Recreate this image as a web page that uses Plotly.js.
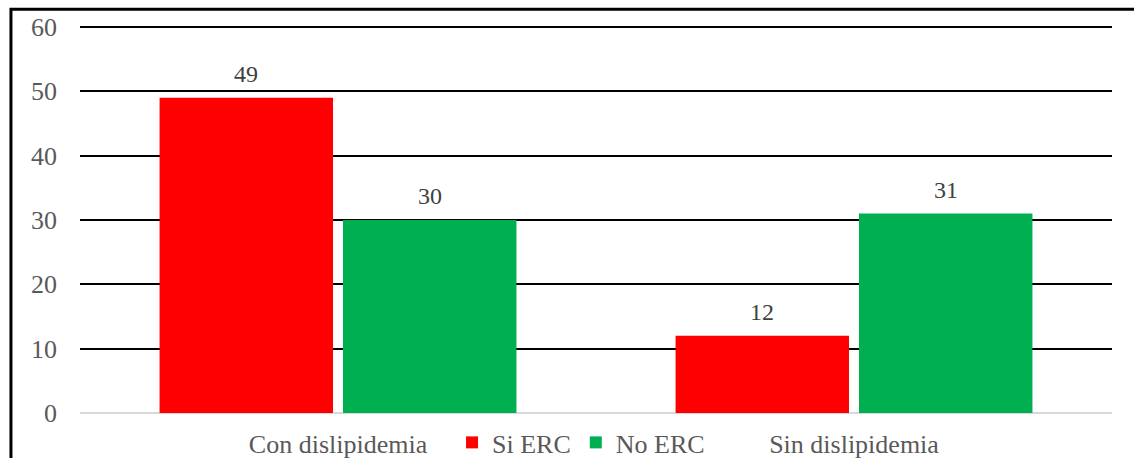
<!DOCTYPE html>
<html>
<head>
<meta charset="utf-8">
<script src="https://cdn.plot.ly/plotly-3.0.1.min.js"></script>
<style>
  html, body { margin: 0; padding: 0; background: #fff; }
  #chart { width: 1134px; height: 458px; }
</style>
</head>
<body>
<div id="chart"></div>
<script>
// Patients grouped by dyslipidemia status, split by CKD (ERC)
const categories = ["Con dislipidemia", "Sin dislipidemia"];
const siErc = [49, 12];
const noErc = [30, 31];
const seriesNames = ["Si ERC", "No ERC"];
const seriesColors = ["#ff0000", "#00b050"];
const yTicks = [0, 10, 20, 30, 40, 50, 60];

const serif = "Liberation Serif";
const BARGAP = 0.289;

const traces = [siErc, noErc].map((vals, i) => ({
  type: "bar", name: seriesNames[i], x: categories, y: vals,
  marker: { color: seriesColors[i] }
}));

// value labels above each bar, offset to the centre of its slot in the group
const slotOffset = (1 - BARGAP) / 4;
const annotations = [];
[siErc, noErc].forEach((vals, i) => {
  vals.forEach((v, c) => {
    annotations.push({
      xref: "x", yref: "y", x: c + (i === 0 ? -slotOffset : slotOffset), y: v,
      text: String(v), showarrow: false, yanchor: "bottom", yshift: 9,
      font: { family: serif, size: 24, color: "#404040" }
    });
  });
});

const layout = {
  width: 1134, height: 458,
  margin: { l: 80, r: 22, t: 25, b: 45, autoexpand: false },
  paper_bgcolor: "#fff", plot_bgcolor: "#fff",
  font: { family: serif, size: 26, color: "#595959" },
  barmode: "group", bargap: BARGAP, bargroupgap: 0.0545,
  showlegend: true,
  legend: {
    orientation: "h", x: 0.4855, xanchor: "center", y: -0.076, yanchor: "middle",
    font: { family: serif, size: 26, color: "#595959" },
    itemwidth: 30, tracegroupgap: 0, bgcolor: "rgba(0,0,0,0)"
  },
  xaxis: {
    type: "category",
    showgrid: false, zeroline: false, showline: false, ticks: "",
    ticklabelstandoff: 13,
    tickfont: { family: serif, size: 26, color: "#595959" },
    fixedrange: true
  },
  yaxis: {
    range: [0, 60.3], tickvals: yTicks, ticktext: yTicks.map(String),
    showgrid: true, gridcolor: "#000", gridwidth: 2,
    zeroline: true, zerolinecolor: "#d9d9d9", zerolinewidth: 2,
    showline: false, ticks: "", ticklabelstandoff: 22,
    tickfont: { family: serif, size: 26, color: "#595959" },
    fixedrange: true
  },
  annotations: annotations,
  shapes: [
    {
      type: "rect", xref: "paper", yref: "paper",
      x0: -0.0669, x1: 1.2, y0: -0.3, y1: 1.0405,
      line: { color: "#000", width: 3 }, fillcolor: "rgba(0,0,0,0)", layer: "above"
    }
  ]
};

Plotly.newPlot("chart", traces, layout, { displayModeBar: false, staticPlot: true });
</script>
</body>
</html>
